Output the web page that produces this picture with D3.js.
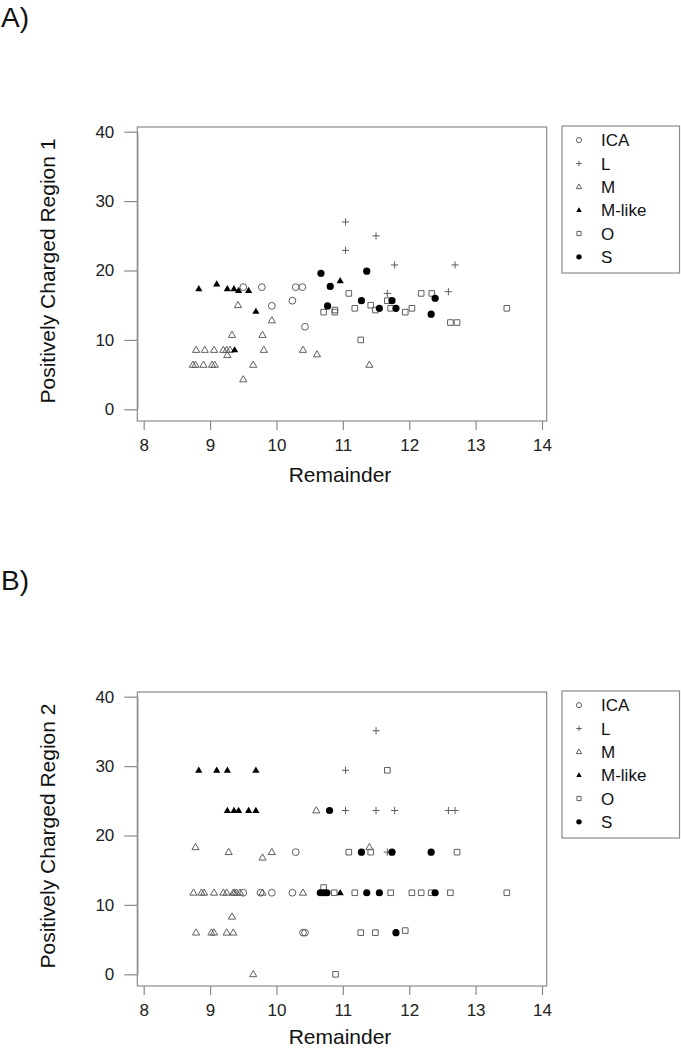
<!DOCTYPE html>
<html>
<head>
<meta charset="utf-8">
<script src="https://cdn.jsdelivr.net/npm/d3@7"></script>
<style>
  html, body { margin: 0; padding: 0; background: #fff; }
  svg { display: block; font-family: Arial, "Liberation Sans", sans-serif; }
</style>
</head>
<body>
<svg id="chart" width="681" height="1050"></svg>
<script>
// ---------- data ----------
const groups = ["ICA", "L", "M", "M-like", "O", "S"];
const xTicks = [8, 9, 10, 11, 12, 13, 14];
const yTicks = [0, 10, 20, 30, 40];
const panelLabels = ["A)", "B)"];
const yTitles = ["Positively Charged Region 1", "Positively Charged Region 2"];
const xTitle = "Remainder";

// Panel A : [Remainder, Positively Charged Region 1]
const icaA = [[9.50,17.6],[9.78,17.6],[9.93,14.9],[10.24,15.65],[10.29,17.6],[10.39,17.6],[10.43,11.9]];
const lA = [[11.04,27.0],[11.50,25.0],[11.04,22.9],[11.78,20.8],[12.69,20.8],[11.67,16.7],[12.59,16.95]];
const mA = [[9.42,15.0],[9.93,12.8],[9.33,10.7],[9.79,10.7],[8.79,8.55],[8.92,8.55],[9.06,8.55],[9.20,8.55],
            [9.25,8.55],[9.30,8.55],[9.81,8.55],[10.40,8.55],[10.61,7.9],[9.26,7.8],[8.74,6.4],[8.78,6.4],
            [8.90,6.4],[9.03,6.4],[9.07,6.4],[9.65,6.4],[9.50,4.3],[11.40,6.4]];
const mlikeA = [[8.83,17.35],[9.10,18.05],[9.26,17.35],[9.36,17.35],[9.43,17.1],[9.58,17.1],[9.69,14.1],[10.96,18.5],[9.37,8.55]];
const oA = [[11.09,16.7],[10.71,14.0],[10.88,14.3],[10.88,14.0],[11.18,14.55],[11.42,15.0],[11.49,14.3],[11.67,15.65],
            [11.72,14.55],[11.94,14.0],[12.04,14.55],[12.18,16.7],[12.34,16.7],[12.62,12.5],[12.72,12.5],[13.47,14.55],[11.27,10.0]];
const sA = [[10.67,19.6],[11.36,19.9],[10.81,17.7],[10.77,14.9],[11.28,15.65],[11.55,14.55],[11.74,15.65],[11.80,14.55],[12.39,16.0],[12.33,13.7]];

// Panel B : [Remainder, Positively Charged Region 2]
const icaB = [[10.29,17.6],[9.50,11.75],[9.76,11.75],[9.93,11.75],[10.24,11.75],[10.40,6.0],[10.43,6.0]];
const lB = [[11.50,35.1],[11.04,29.4],[11.04,23.6],[11.50,23.6],[11.78,23.6],[12.59,23.6],[12.69,23.6],[11.67,17.6]];
const mB = [[8.78,18.3],[9.28,17.6],[9.79,16.8],[9.93,17.6],[11.40,18.3],[10.60,23.6],
            [8.75,11.75],[8.87,11.75],[8.91,11.75],[9.06,11.75],[9.20,11.75],[9.25,11.75],[9.35,11.75],[9.37,11.75],
            [9.40,11.75],[9.45,11.75],[9.79,11.75],[10.40,11.75],
            [8.79,6.0],[9.02,6.0],[9.06,6.0],[9.25,6.0],[9.35,6.0],[9.33,8.3],[9.65,0.0]];
const mlikeB = [[8.83,29.4],[9.10,29.4],[9.26,29.4],[9.69,29.4],[9.26,23.6],[9.36,23.6],[9.43,23.6],[9.58,23.6],[9.69,23.6],[10.96,11.75]];
const oB = [[11.67,29.4],[11.09,17.6],[11.42,17.6],[12.72,17.6],[10.71,12.5],[10.87,11.75],[11.18,11.75],[11.72,11.75],
            [12.04,11.75],[12.18,11.75],[12.33,11.75],[12.62,11.75],[13.47,11.75],[11.27,6.0],[11.49,6.0],[11.94,6.3],[10.89,0.0]];
const sB = [[10.80,23.6],[10.66,11.75],[10.71,11.75],[10.76,11.75],[11.36,11.75],[11.55,11.75],[12.39,11.75],
            [11.28,17.6],[11.74,17.6],[12.33,17.6],[11.80,6.0]];

const panelData = [
  [icaA, lA, mA, mlikeA, oA, sA],
  [icaB, lB, mB, mlikeB, oB, sB]
];

// ---------- drawing ----------
const svg = d3.select("#chart");
const gray = "#5e5e5e";
const axisGray = "#8a8a8a";

function symbolPath(type, s) {
  switch (type) {
    case "ICA": { const r = 3.4 * s; return `M${r},0A${r},${r} 0 1,1 ${-r},0A${r},${r} 0 1,1 ${r},0Z`; }
    case "L": { const h = 3.6 * s; return `M${-h},0H${h}M0,${-h}V${h}`; }
    case "M": case "M-like": { const w = 3.6 * s; return `M0,${-3.8*s}L${w},${2.4*s}L${-w},${2.4*s}Z`; }
    case "O": { const h = 2.8 * s; return `M${-h},${-h}H${h}V${h}H${-h}Z`; }
    case "S": { const r = 3.6 * s; return `M${r},0A${r},${r} 0 1,1 ${-r},0A${r},${r} 0 1,1 ${r},0Z`; }
  }
}
function symbolStyle(sel, type) {
  const filled = (type === "S" || type === "M-like");
  sel.attr("fill", filled ? "#000" : "none")
     .attr("stroke", filled ? "none" : gray)
     .attr("stroke-width", 1);
}

const offsets = [0, 565];

offsets.forEach((off, p) => {
  const g = svg.append("g");
  const x = d3.scaleLinear().domain([8, 14]).range([143.7, 542]);
  const y = d3.scaleLinear().domain([0, 40]).range([409.3 + off, 131.7 + off]);

  const boxL = 137.3, boxR = 546.7, boxT = 127 + off, boxB = 421 + off;

  // panel label
  g.append("text").attr("x", 1).attr("y", 27 + off - (p ? 2 : 0))
    .attr("font-size", 28).attr("fill", "#111").text(panelLabels[p]);

  // box
  g.append("rect").attr("x", boxL).attr("y", boxT)
    .attr("width", boxR - boxL).attr("height", boxB - boxT)
    .attr("fill", "none").attr("stroke", axisGray).attr("stroke-width", 1.2);

  // y axis
  const yAxis = d3.axisLeft(y).tickValues(yTicks).tickSize(13).tickSizeOuter(0).tickPadding(10)
    .tickFormat(d3.format("d"));
  const ya = g.append("g").attr("transform", `translate(${boxL},0)`).call(yAxis);
  ya.select(".domain").attr("stroke", axisGray).attr("stroke-width", 1.2);
  ya.selectAll(".tick line").attr("stroke", axisGray).attr("stroke-width", 1.2);
  ya.selectAll(".tick text").attr("font-size", 17).attr("fill", "#222")
    .attr("font-family", "Arial, 'Liberation Sans', sans-serif");

  // x axis
  const xAxis = d3.axisBottom(x).tickValues(xTicks).tickSize(9).tickSizeOuter(0).tickPadding(9)
    .tickFormat(d3.format("d"));
  const xa = g.append("g").attr("transform", `translate(0,${boxB})`).call(xAxis);
  xa.select(".domain").remove();
  xa.selectAll(".tick line").attr("stroke", axisGray).attr("stroke-width", 1.2);
  xa.selectAll(".tick text").attr("font-size", 17).attr("fill", "#222")
    .attr("font-family", "Arial, 'Liberation Sans', sans-serif");

  // titles
  g.append("text").attr("x", (boxL + boxR) / 2 - 2).attr("y", 482 + off - (p ? 3 : 0))
    .attr("text-anchor", "middle").attr("font-size", 21).attr("fill", "#111").text(xTitle);
  g.append("text")
    .attr("transform", `translate(55,${271 + off}) rotate(-90)`)
    .attr("text-anchor", "middle").attr("font-size", 21).attr("fill", "#111").text(yTitles[p]);

  // points
  groups.forEach((grp, i) => {
    g.append("g").selectAll("path").data(panelData[p][i]).join("path")
      .attr("transform", d => `translate(${x(d[0])},${y(d[1])})`)
      .attr("d", symbolPath(grp, 1))
      .call(symbolStyle, grp);
  });

  // legend
  const lg = g.append("g");
  lg.append("rect").attr("x", 562).attr("y", 126 + off).attr("width", 117.5).attr("height", 147)
    .attr("fill", "#fff").attr("stroke", axisGray).attr("stroke-width", 1.2);
  const ly = d3.scaleBand().domain(groups).range([128.5 + off, 268.5 + off]);
  groups.forEach(grp => {
    const cy = ly(grp) + ly.bandwidth() / 2;
    lg.append("path").attr("transform", `translate(579,${cy})`)
      .attr("d", symbolPath(grp, 0.75)).call(symbolStyle, grp);
    lg.append("text").attr("x", 601).attr("y", cy).attr("dy", "0.36em")
      .attr("font-size", 17).attr("fill", "#111").text(grp);
  });
});
</script>
</body>
</html>
